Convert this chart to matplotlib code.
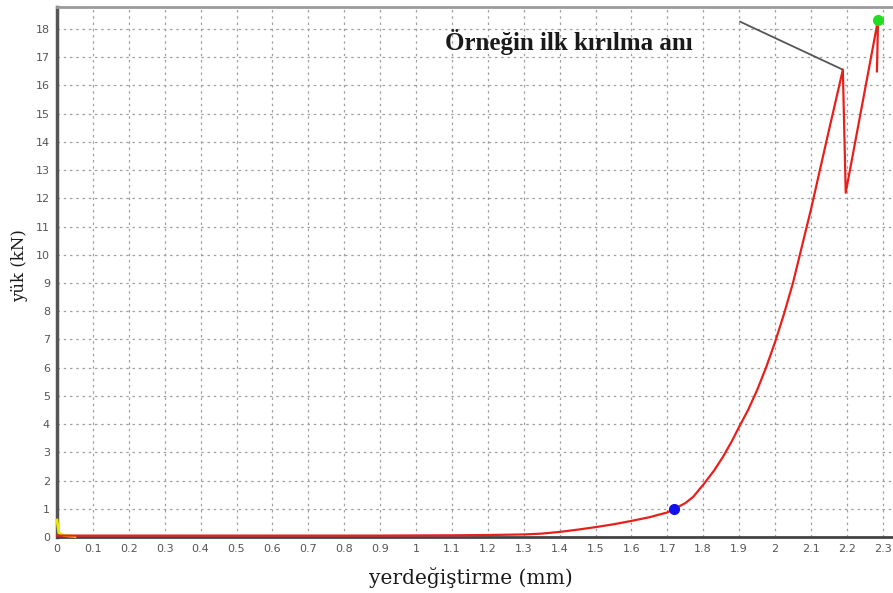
import numpy as np
import matplotlib.pyplot as plt

# load-displacement curve
disp = [0.0, 0.05, 0.3, 0.6, 0.9, 1.1, 1.2, 1.3, 1.35, 1.4, 1.45, 1.5, 1.55, 1.6, 1.65,
        1.7, 1.719, 1.75, 1.772, 1.80, 1.83, 1.855, 1.88, 1.90, 1.925, 1.95, 1.975,
        2.0, 2.025, 2.05, 2.075, 2.1, 2.125, 2.15, 2.17, 2.189,
        2.197, 2.287, 2.284]
load = [0.05, 0.05, 0.05, 0.05, 0.05, 0.06, 0.07, 0.09, 0.12, 0.18, 0.26, 0.35, 0.45, 0.57, 0.7,
        0.87, 0.99, 1.2, 1.42, 1.85, 2.35, 2.84, 3.4, 3.9, 4.5, 5.2, 6.0,
        6.9, 7.9, 9.0, 10.3, 11.6, 13.0, 14.4, 15.5, 16.56,
        12.2, 18.33, 16.5]

# markers
start_pt = (1.719, 0.99)
max_pt = (2.287, 18.33)
first_break = (2.189, 16.56)
label_end = (1.903, 18.26)

# small yellow trace at the origin
yel_x = [0.0, 0.005, 0.02, 0.05]
yel_y = [0.6, 0.15, 0.05, 0.02]

fig = plt.figure(figsize=(8.93, 5.93), dpi=100)
ax = fig.add_axes([57 / 893, 56 / 593, 836 / 893, 530 / 593])

ax.set_xlim(0, 836 / 359)
ax.set_ylim(0, 530 / 28.22)
ax.set_xticks(np.round(np.arange(0, 2.31, 0.1), 1))
ax.set_xticklabels(["0", "0.1", "0.2", "0.3", "0.4", "0.5", "0.6", "0.7", "0.8", "0.9", "1",
                    "1.1", "1.2", "1.3", "1.4", "1.5", "1.6", "1.7", "1.8", "1.9", "2",
                    "2.1", "2.2", "2.3"])
ax.set_yticks(range(0, 19))
ax.tick_params(labelsize=8, labelcolor="#555555", length=0, pad=5)
ax.grid(True, color="#a0a0a0", linestyle=(0, (2, 3)), linewidth=0.9)

ax.spines["right"].set_visible(False)
ax.spines["left"].set_color("#555555")
ax.spines["left"].set_linewidth(2.5)
ax.spines["bottom"].set_color("#444444")
ax.spines["bottom"].set_linewidth(2)
ax.spines["top"].set_color("#9a9a9a")
ax.spines["top"].set_linewidth(2)

ax.plot(yel_x, yel_y, color="#e8e800", lw=2, zorder=3, clip_on=False)
ax.plot(disp, load, color="#e8201c", lw=1.6, zorder=4, clip_on=False)
ax.plot(*start_pt, "o", color="#1010ee", ms=7, zorder=5)
ax.plot(*max_pt, "o", color="#22dd22", ms=7, zorder=5, clip_on=False)

ax.plot([label_end[0], first_break[0]], [label_end[1], first_break[1]],
        color="#555555", lw=1.3, zorder=3)
ax.text(1.081, 17.55, "Örneğin ilk kırılma anı", fontsize=18, family="Liberation Serif",
        weight="bold", va="center", ha="left", color="#1a1a1a")

fig.text(471 / 893, 1 - 577 / 593, "yerdeğiştirme (mm)", fontsize=14.5,
         family="DejaVu Serif", ha="center", va="center", color="#1a1a1a")
fig.text(20 / 893, 1 - 266 / 593, "yük (kN)", fontsize=12, family="DejaVu Serif",
         rotation=90, ha="center", va="center", color="#1a1a1a")

fig.savefig("out.png", dpi=100)
